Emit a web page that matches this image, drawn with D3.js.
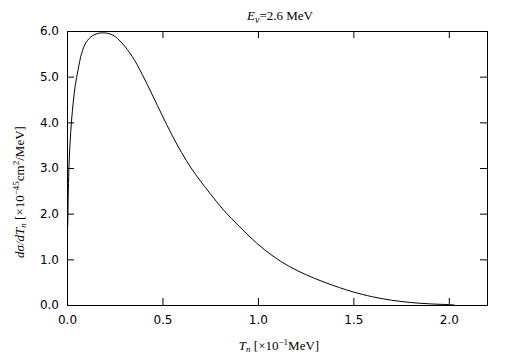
<!DOCTYPE html>
<html lang="en">
<head>
<meta charset="UTF-8">
<title>E_nu = 2.6 MeV</title>
<script src="https://d3js.org/d3.v7.min.js"></script>
<style>
body { margin: 0; background: #fff; }
.tick text { font-family: "DejaVu Sans", sans-serif; font-size: 12px; fill: #000; }
.lab { font-family: "Liberation Serif", "Times New Roman", serif; font-size: 13px; fill: #000; }
</style>
</head>
<body>
<script>
// recoil energy T_n (x10^-1 MeV) and dsigma/dT_n (x10^-45 cm^2/MeV)
var tn = [0.004, 0.007, 0.011, 0.016, 0.024, 0.033, 0.043, 0.058, 0.076, 0.1, 0.135,
  0.185, 0.24, 0.289, 0.342, 0.394, 0.447, 0.5, 0.55, 0.6, 0.65, 0.7, 0.75, 0.82, 0.905,
  0.992, 1.079, 1.166, 1.254, 1.341, 1.428, 1.5, 1.6, 1.7, 1.8, 1.9, 2.0, 2.03];
var sigma = [1.72, 2.5, 3.1, 3.55, 4.05, 4.45, 4.8, 5.15, 5.5, 5.75, 5.9,
  5.96, 5.91, 5.73, 5.44, 5.05, 4.6, 4.14, 3.72, 3.34, 3.0, 2.71, 2.44, 2.08, 1.71,
  1.36, 1.07, 0.84, 0.66, 0.51, 0.38, 0.285, 0.18, 0.105, 0.055, 0.025, 0.008, 0.0];
var xTicks = [0, 0.5, 1.0, 1.5, 2.0];
var yTicks = [0, 1, 2, 3, 4, 5, 6];

var width = 505, height = 361;
var margin = {left: 67, top: 31, right: 18, bottom: 56};
var w = width - margin.left - margin.right, h = height - margin.top - margin.bottom;

var x = d3.scaleLinear().domain([0, 2.2]).range([0, w]);
var y = d3.scaleLinear().domain([0, 6]).range([h, 0]);
var fmt = d3.format(".1f");

var svg = d3.select("body").append("svg")
  .attr("width", width)
  .attr("height", height);

var g = svg.append("g")
  .attr("transform", "translate(" + margin.left + "," + margin.top + ")");

function strip(sel) {
  sel.select(".domain").remove();
  sel.selectAll(".tick line").attr("stroke", "#000");
}

g.append("g")
  .attr("transform", "translate(0," + h + ")")
  .call(d3.axisBottom(x).tickValues(xTicks).tickFormat(fmt).tickSize(-7).tickPadding(10))
  .call(strip);
g.append("g")
  .call(d3.axisTop(x).tickValues(xTicks).tickFormat("").tickSize(-7))
  .call(strip);
g.append("g")
  .call(d3.axisLeft(y).tickValues(yTicks).tickFormat(fmt).tickSize(-7).tickPadding(8))
  .call(strip);
g.append("g")
  .attr("transform", "translate(" + w + ",0)")
  .call(d3.axisRight(y).tickValues(yTicks).tickFormat("").tickSize(-7))
  .call(strip);

g.append("rect")
  .attr("x", 0.5).attr("y", 0.5)
  .attr("width", w).attr("height", h)
  .attr("fill", "none").attr("stroke", "#000");

var pts = tn.map(function(d, i) { return [d, sigma[i]]; });
var line = d3.line()
  .x(function(d) { return x(d[0]); })
  .y(function(d) { return y(d[1]); })
  .curve(d3.curveCatmullRom.alpha(0.5));

g.append("path")
  .datum(pts)
  .attr("d", line)
  .attr("fill", "none")
  .attr("stroke", "#000")
  .attr("stroke-width", 1);

// title
var t = svg.append("text").attr("class", "lab")
  .attr("x", margin.left + w / 2 + 3).attr("y", 20)
  .attr("text-anchor", "middle");
t.append("tspan").attr("font-style", "italic").text("E");
t.append("tspan").attr("font-size", "10px").attr("dy", 3).attr("font-style", "italic").text("ν");
t.append("tspan").attr("dy", -3).text("=2.6 MeV");

// x label
var xl = svg.append("text").attr("class", "lab")
  .attr("x", 279).attr("y", 350)
  .attr("text-anchor", "middle");
xl.append("tspan").attr("font-style", "italic").text("T");
xl.append("tspan").attr("font-style", "italic").attr("font-size", "9px").attr("dy", 2).text("n");
xl.append("tspan").attr("dy", -2).text(" [×10");
xl.append("tspan").attr("font-size", "9px").attr("dy", -5).text("−1");
xl.append("tspan").attr("dy", 5).text("MeV]");

// y label
var yl = svg.append("text").attr("class", "lab")
  .attr("transform", "translate(24,192) rotate(-90)")
  .attr("text-anchor", "middle");
yl.append("tspan").attr("font-style", "italic").text("dσ/dT");
yl.append("tspan").attr("font-style", "italic").attr("font-size", "9px").attr("dy", 2).text("n");
yl.append("tspan").attr("dy", -2).text(" [×10");
yl.append("tspan").attr("font-size", "9px").attr("dy", -5).text("−45");
yl.append("tspan").attr("dy", 5).text("cm");
yl.append("tspan").attr("font-size", "9px").attr("dy", -5).text("2");
yl.append("tspan").attr("dy", 5).text("/MeV]");
</script>
</body>
</html>
